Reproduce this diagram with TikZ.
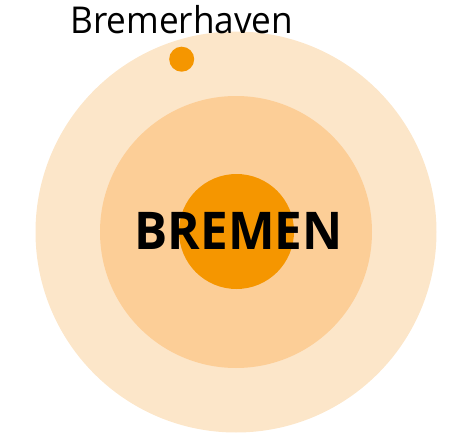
\documentclass[tikz,border=0pt]{standalone}
\usepackage{fontspec}
\setmainfont{Open Sans}
\newfontfamily\labelfont[FakeStretch=0.95]{Open Sans}
\usetikzlibrary{positioning}
\definecolor{ringout}{RGB}{252,230,201}
\definecolor{ringmid}{RGB}{252,206,151}
\definecolor{citycore}{RGB}{245,150,0}
\tikzset{
        ring/.style={circle, inner sep=0pt, draw=none},
        cityname/.style={anchor=base, inner sep=0pt, font=\labelfont\bfseries\fontsize{52}{52}\selectfont},
        townname/.style={anchor=base, inner sep=0pt, font=\labelfont\fontsize{37}{37}\selectfont},
    }

\begin{document}
\begin{tikzpicture}[x=1pt, y=-1pt]

        \useasboundingbox (0,0) rectangle (472,447);

        % Ringe um Bremen
        \node[ring, fill=ringout, minimum size=401pt] (outer) at (236, 232) {};
        \node[ring, fill=ringmid, minimum size=272pt] (middle) at (236, 232) {};
        \node[ring, fill=citycore, minimum size=115pt] (core) at (236.5, 231.5) {};

        % Bremerhaven
        \node[ring, fill=citycore, minimum size=25pt] (haven) at (181.7, 59.2) {};
        \node[townname] (havenlabel) at (181.7, 33.3) {Bremerhaven};

        % Stadtname
        \node[cityname] (city) at (238.7, 249.3) {BREMEN};

    \end{tikzpicture}
\end{document}
